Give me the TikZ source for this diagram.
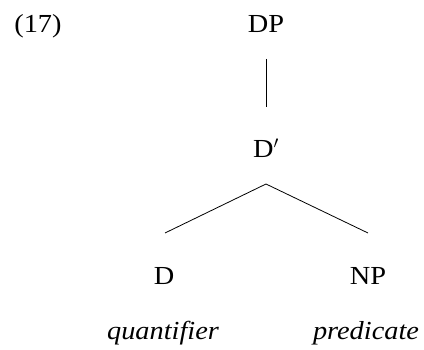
\documentclass[tikz,border=0pt]{standalone}
\usepackage{fontspec}
\setmainfont[FakeStretch=1.09]{Liberation Serif}
\begin{document}
\begin{tikzpicture}[x=1pt,y=-1pt,
  lab/.style={anchor=base,inner sep=0pt,font=\fontsize{26}{31}\selectfont},
  edge/.style={line width=0.8pt}]
\useasboundingbox (0,0) rectangle (424,350);
\node[lab] (ex) at (38,33) {(17)};
\node[lab] (DP) at (266,33) {DP};
\node[lab] (Dbar) at (266,158) {D$'$};
\node[lab] (D) at (164,285) {D};
\node[lab] (NP) at (368,285) {NP};
\node[lab] (q) at (163,340) {\itshape quantifier};
\node[lab] (p) at (366,340) {\itshape predicate};
\coordinate (dpb) at (266,59);
\coordinate (dbt) at (266,107);
\coordinate (apex) at (266,184);
\coordinate (lft) at (165,233);
\coordinate (rgt) at (368,233);
\draw[edge] (dpb) -- (dbt);
\draw[edge] (lft) -- (apex) -- (rgt);
\end{tikzpicture}
\end{document}
